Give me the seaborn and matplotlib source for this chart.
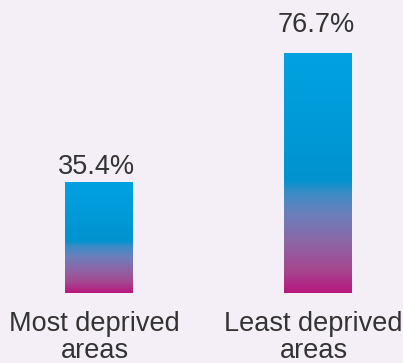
import numpy as np
import pandas as pd
import matplotlib
matplotlib.use("Agg")
import matplotlib.pyplot as plt
import matplotlib.transforms as mtransforms
import seaborn as sns
from matplotlib.colors import LinearSegmentedColormap

categories = ["Most deprived\nareas", "Least deprived\nareas"]
values = [35.4, 76.7]
value_labels = ["35.4%", "76.7%"]

bg = "#f4eff6"
txt = "#333333"
label_gap_pt = [1.5, 10.5]

sns.set_theme(style="white")
plt.rcParams["font.family"] = ["Liberation Sans", "DejaVu Sans"]

fig = plt.figure(figsize=(4.03, 3.63), dpi=100, facecolor=bg)
ax = fig.add_axes([0, (363 - 293) / 363, 1, 293 / 363])
ax.set_facecolor(bg)

df = pd.DataFrame({"cat": categories, "val": values})
sns.barplot(data=df, x="cat", y="val", ax=ax, width=0.31, color="#00a0e0",
            edgecolor="none", linewidth=0)

cmap = LinearSegmentedColormap.from_list(
    "g", [(0.0, "#b8187f"), (0.1, "#a4498f"), (0.22, "#8a68a8"), (0.33, "#6a80bc"),
          (0.42, "#3a8cc6"), (0.47, "#0093cf"), (1.0, "#00a2e2")])
grad = np.linspace(0, 1, 256).reshape(-1, 1)
for p, lab, gap in zip(ax.patches, value_labels, label_gap_pt):
    x0, y0 = p.get_x(), p.get_y()
    w, h = p.get_width(), p.get_height()
    im = ax.imshow(grad, cmap=cmap, origin="lower", aspect="auto",
                   extent=(x0, x0 + w, y0, y0 + h), zorder=3, interpolation="bilinear")
    im.set_clip_path(p)
    ax.annotate(lab, (x0 + w / 2, h), xytext=(-1.5, gap), textcoords="offset points",
                ha="center", va="bottom", fontsize=19.5, color=txt)
ax.set_xlim(-99 / 219, (403 - 99) / 219)
ax.set_ylim(0, 76.7 * 293 / 240)

ax.set_xlabel("")
ax.set_ylabel("")
ax.set_yticks([])
ax.tick_params(axis="x", length=0, pad=13, labelsize=19.5, labelcolor=txt)
shift = mtransforms.ScaledTranslation(-4.5 / 100, 0, fig.dpi_scale_trans)
for t in ax.get_xticklabels():
    t.set_linespacing(1.05)
    t.set_transform(t.get_transform() + shift)
for s in ax.spines.values():
    s.set_visible(False)

fig.savefig("out.png", dpi=100, facecolor=bg)
